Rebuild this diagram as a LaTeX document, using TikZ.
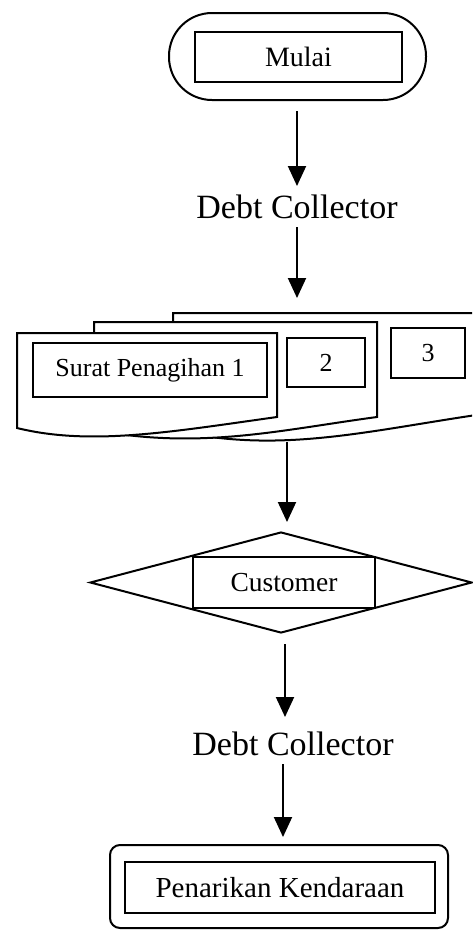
\documentclass[tikz,border=0pt]{standalone}
\usepackage{fontspec}
\setmainfont{Liberation Serif}
\usetikzlibrary{arrows.meta,shapes.geometric}
\begin{document}
\begin{tikzpicture}[x=1pt,y=-1pt,
  line width=2pt,
  arr/.style={line width=2pt,-{Triangle[width=18pt,length=20pt]}},
  box/.style={draw,rectangle,inner sep=0pt},
  lbl/.style={font=\fontsize{34}{40}\selectfont,text height=23pt,text depth=0pt,inner sep=8pt},
  doc/.style={draw,fill=white,line width=2pt},
  small/.style={font=\fontsize{26}{30}\selectfont}
]
\useasboundingbox (0,0) rectangle (472,932);
\coordinate (colA) at (297,0);
\coordinate (colB) at (287,0);
\coordinate (colC) at (285,0);
\coordinate (colD) at (283,0);

% start
\node[box,rounded corners=43pt,minimum width=257pt,minimum height=87pt] (start) at (297.5,56.5) {};
\node[box,minimum width=207pt,minimum height=50pt,font=\fontsize{28}{32}\selectfont] (startin) at (298.5,57) {Mulai};

\node[lbl] (dc1) at (297,206.5) {Debt Collector};

% documents
\begin{scope}
\clip (0,0) rectangle (472,932);
\draw[doc] (173,313) -- (490,313) -- (490,413) .. controls (370,430) and (280,455) .. (173,430) -- cycle;
\draw[doc] (94,322) -- (377,322) -- (377,417) .. controls (280,430) and (200,450) .. (94,430) -- cycle;
\draw[doc] (17,333) -- (277,333) -- (277,417) .. controls (170,432) and (90,446) .. (17,428) -- cycle;
\end{scope}
\node[box,small,minimum width=234pt,minimum height=54pt] (s1) at (150,370) {Surat Penagihan 1};
\node[box,small,minimum width=78pt,minimum height=49pt] (s2) at (326,362.5) {2};
\node[box,small,minimum width=74pt,minimum height=50pt] (s3) at (428,353) {3};
\coordinate (docin) at (297,313);
\coordinate (docout) at (287,440);

% decision
\node[draw,diamond,minimum width=382pt,minimum height=101pt,inner sep=0pt] (dia) at (281,582.5) {};
\node[box,minimum width=182pt,minimum height=51pt,font=\fontsize{27.5}{32}\selectfont] (cust) at (284,582.5) {Customer};

\node[lbl] (dc2) at (293,743.5) {Debt Collector};

% end
\node[box,rounded corners=10pt,minimum width=338pt,minimum height=83pt] (fin) at (279,886.5) {};
\node[box,minimum width=310pt,minimum height=51pt,font=\fontsize{29}{33}\selectfont] (finin) at (280,887.5) {Penarikan Kendaraan};

% connectors
\draw[arr,shorten <=10pt] (start.south -| colA) -- (dc1.north -| colA);
\draw[arr,shorten >=15pt] (dc1.south -| colA) -- (docin);
\draw[arr,shorten <=2pt,shorten >=9pt] (docout) -- (docout |- dia.north);
\draw[arr,shorten <=10pt,shorten >=6pt] (dia.south -| colC) -- (dc2.north -| colC);
\draw[arr,shorten >=7pt] (dc2.south -| colD) -- (fin.north -| colD);
\end{tikzpicture}
\end{document}
